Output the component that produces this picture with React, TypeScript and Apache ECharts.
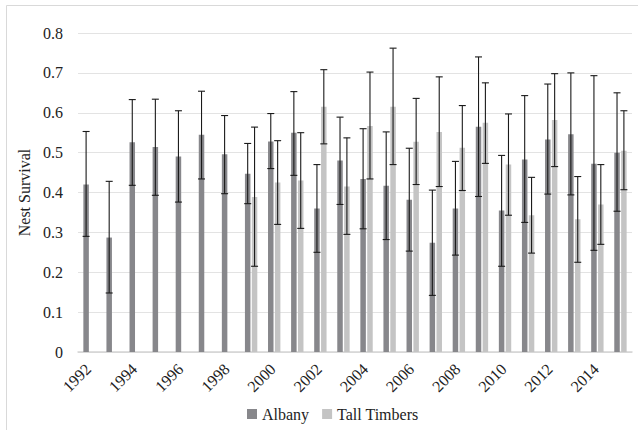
import React, { useEffect, useRef } from "react";
import * as echarts from "echarts";

const years = ["1992","1993","1994","1995","1996","1997","1998","1999","2000","2001","2002","2003","2004","2005","2006","2007","2008","2009","2010","2011","2012","2013","2014","2015"];

const albany = [0.42, 0.287, 0.526, 0.514, 0.49, 0.545, 0.496, 0.447, 0.528, 0.55, 0.36, 0.48, 0.434, 0.417, 0.382, 0.274, 0.36, 0.565, 0.355, 0.483, 0.533, 0.546, 0.472, 0.5];
const albanyLo = [0.29, 0.148, 0.418, 0.393, 0.376, 0.434, 0.397, 0.372, 0.46, 0.443, 0.25, 0.37, 0.309, 0.282, 0.253, 0.142, 0.243, 0.39, 0.215, 0.325, 0.396, 0.394, 0.255, 0.353];
const albanyHi = [0.553, 0.428, 0.633, 0.634, 0.605, 0.654, 0.593, 0.523, 0.598, 0.653, 0.47, 0.589, 0.56, 0.552, 0.511, 0.406, 0.478, 0.74, 0.493, 0.643, 0.672, 0.7, 0.693, 0.65];

const tallTimbers = [null, null, null, null, null, null, null, 0.389, 0.425, 0.43, 0.615, 0.415, 0.567, 0.615, 0.527, 0.552, 0.512, 0.575, 0.47, 0.343, 0.582, 0.333, 0.37, 0.505];
const tallTimbersLo = [null, null, null, null, null, null, null, 0.215, 0.32, 0.31, 0.522, 0.295, 0.434, 0.47, 0.42, 0.415, 0.405, 0.473, 0.343, 0.248, 0.465, 0.225, 0.27, 0.407];
const tallTimbersHi = [null, null, null, null, null, null, null, 0.564, 0.53, 0.55, 0.708, 0.537, 0.702, 0.762, 0.636, 0.69, 0.618, 0.675, 0.597, 0.438, 0.698, 0.44, 0.47, 0.605];

const BAR_W = 5.5;
const GAP_PCT = 25;
const FONT = "Liberation Serif";
const FS = 16;

function errorSeries(lo: (number | null)[], hi: (number | null)[], side: number) {
  const data = lo
    .map((l, i) => (l == null || hi[i] == null ? null : [i, l, hi[i]]))
    .filter((d) => d != null);
  return {
    type: "custom",
    silent: true,
    z: 10,
    data,
    renderItem: (params: any, api: any) => {
      const idx = api.value(0);
      const pLo = api.coord([idx, api.value(1)]);
      const pHi = api.coord([idx, api.value(2)]);
      const gap = (BAR_W * GAP_PCT) / 100;
      const x = pLo[0] + side * (BAR_W + gap) / 2;
      const cap = 3.5;
      const style = { stroke: "#1a1a1a", lineWidth: 1.1 };
      return {
        type: "group",
        children: [
          { type: "line", shape: { x1: x, y1: pLo[1], x2: x, y2: pHi[1] }, style },
          { type: "line", shape: { x1: x - cap, y1: pHi[1], x2: x + cap, y2: pHi[1] }, style },
          { type: "line", shape: { x1: x - cap, y1: pLo[1], x2: x + cap, y2: pLo[1] }, style },
        ],
      };
    },
  };
}

export default function App() {
  const ref = useRef<HTMLDivElement>(null);
  useEffect(() => {
    const chart = echarts.init(ref.current!, null, { renderer: "svg" });
    chart.setOption({
      animation: false,
      textStyle: { fontFamily: FONT },
      graphic: [
        {
          type: "rect",
          shape: { x: 6.5, y: 5.5, width: 640, height: 440 },
          style: { fill: "none", stroke: "#d9d9d9", lineWidth: 1 },
          silent: true,
        },
      ],
      grid: { left: 78, right: 6, top: 33, bottom: 78 },
      legend: {
        left: 242,
        top: 401,
        itemWidth: 10,
        itemHeight: 10,
        itemGap: 13,
        icon: "rect",
        textStyle: { fontFamily: FONT, fontSize: FS, color: "#222" },
        data: ["Albany", "Tall Timbers"],
      },
      xAxis: {
        type: "category",
        data: years,
        axisLine: { lineStyle: { color: "#d4d4d4", width: 1.5 } },
        axisTick: { show: false },
        axisLabel: {
          interval: 1,
          rotate: 45,
          margin: 13,
          padding: [0, 2, 0, 0],
          fontFamily: FONT,
          fontSize: FS,
          color: "#222",
        },
      },
      yAxis: {
        type: "value",
        min: 0,
        max: 0.8,
        interval: 0.1,
        name: "Nest Survival",
        nameLocation: "middle",
        nameGap: 40,
        nameTextStyle: { fontFamily: FONT, fontSize: FS, color: "#222" },
        axisLine: { show: false },
        axisTick: { show: false },
        splitLine: { lineStyle: { color: "#e3e3e3", width: 1.2 } },
        axisLabel: {
          margin: 15,
          fontFamily: FONT,
          fontSize: FS,
          color: "#222",
          formatter: (v: number) => (v === 0 ? "0" : v.toFixed(1)),
        },
      },
      series: [
        {
          name: "Albany",
          type: "bar",
          data: albany,
          barWidth: BAR_W,
          barGap: GAP_PCT + "%",
          itemStyle: { color: "#87878b" },
        },
        {
          name: "Tall Timbers",
          type: "bar",
          data: tallTimbers,
          barWidth: BAR_W,
          barGap: GAP_PCT + "%",
          itemStyle: { color: "#c4c4c4" },
        },
        errorSeries(albanyLo, albanyHi, -1),
        errorSeries(tallTimbersLo, tallTimbersHi, 1),
      ],
    });
    return () => chart.dispose();
  }, []);
  return (
    <div
      ref={ref}
      style={{ position: "fixed", left: 0, top: 0, width: 638, height: 430, background: "#fff" }}
    />
  );
}
